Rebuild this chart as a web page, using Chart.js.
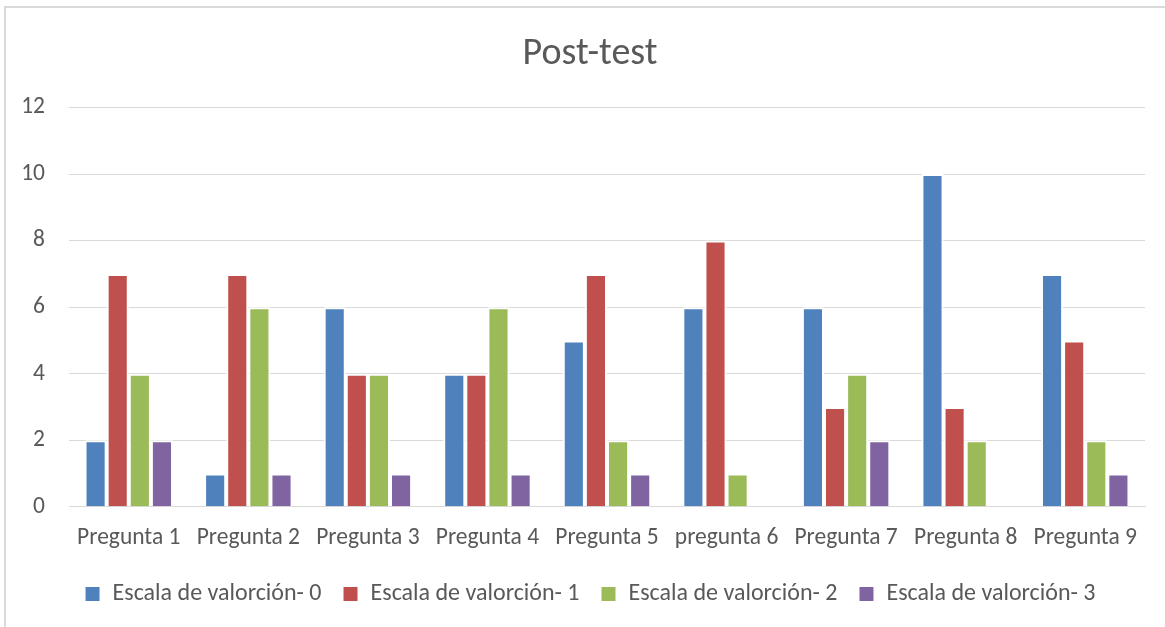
<!DOCTYPE html>
<html>
<head>
<meta charset="utf-8">
<script src="https://cdn.jsdelivr.net/npm/chart.js@4.4.1/dist/chart.umd.min.js"></script>
<style>
  html, body { margin: 0; padding: 0; background: #fff; overflow: hidden; }
  #frame {
    position: absolute; left: 4px; top: 6px;
    width: 1180px; height: 640px;
    border: 2px solid #d9d9d9; box-sizing: border-box;
  }
  #wrap { position: absolute; left: 5px; top: 7px; width: 1175px; height: 620px; }
</style>
</head>
<body>
<div id="frame"></div>
<div id="wrap"><canvas id="chart1"></canvas></div>
<script>
// datos del post-test
var preguntas = ["Pregunta 1", "Pregunta 2", "Pregunta 3", "Pregunta 4", "Pregunta 5", "pregunta 6", "Pregunta 7", "Pregunta 8", "Pregunta 9"];
var escala0 = [2, 1, 6, 4, 5, 6, 6, 10, 7];
var escala1 = [7, 7, 4, 4, 7, 8, 3, 3, 5];
var escala2 = [4, 6, 4, 6, 2, 1, 4, 2, 2];
var escala3 = [2, 1, 1, 1, 1, 0, 2, 0, 1];
var nombres = ["Escala de valorción- 0", "Escala de valorción- 1", "Escala de valorción- 2", "Escala de valorción- 3"];
var colores = ["#4f81bd", "#c0504d", "#9bbb59", "#8064a2"];

var fuente = "Carlito, Calibri, 'Open Sans', sans-serif";
var gris = "#595959";

var series = [escala0, escala1, escala2, escala3];
var ctx1 = document.getElementById("chart1").getContext("2d");
var chart1 = new Chart(ctx1, {
    type: "bar",
    data: {
        labels: preguntas,
        datasets: series.map(function (s, i) {
            return {
                label: nombres[i],
                data: s,
                backgroundColor: colores[i],
                borderColor: "#ffffff",
                borderWidth: 2,
                categoryPercentage: 0.74,
                barPercentage: 1
            };
        })
    },
    options: {
        responsive: true,
        maintainAspectRatio: false,
        animation: false,
        layout: { padding: { left: 30, right: 35, top: 0, bottom: 11 } },
        plugins: {
            title: {
                display: true,
                text: "Post-test",
                color: gris,
                font: { family: fuente, size: 38, weight: "normal" },
                padding: { top: 25, bottom: 30 }
            },
            legend: {
                position: "bottom",
                labels: {
                    color: gris,
                    font: { family: fuente, size: 24 },
                    boxWidth: 16,
                    boxHeight: 16,
                    padding: 21
                }
            },
            tooltip: { enabled: false }
        },
        scales: {
            x: {
                grid: { display: false },
                border: { color: "#d9d9d9", width: 1 },
                ticks: { color: gris, font: { family: fuente, size: 23.5, lineHeight: 0.78 }, padding: 14, maxRotation: 0 }
            },
            y: {
                min: 0,
                max: 12,
                afterFit: function (scale) {
                    scale.width = 34;
                    // las etiquetas quedan fuera de la caja del eje, no recortar
                    scale._computeLabelArea = function () { return undefined; };
                },
                border: { display: false },
                grid: { color: "#d9d9d9", lineWidth: 1, drawTicks: false },
                ticks: { stepSize: 2, color: gris, font: { family: fuente, size: 23.5 }, padding: 24 }
            }
        }
    }
});
</script>
</body>
</html>
